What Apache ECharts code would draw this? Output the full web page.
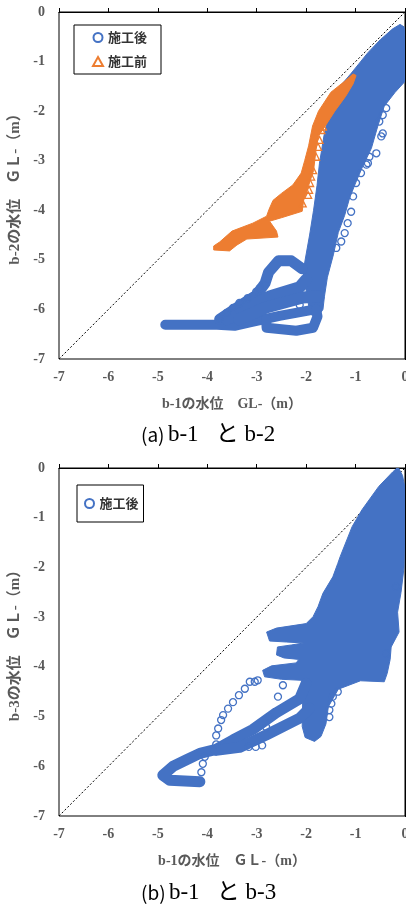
<!DOCTYPE html>
<html>
<head>
<meta charset="utf-8">
<script src="https://cdn.jsdelivr.net/npm/echarts@6/dist/echarts.min.js"></script>
<style>
  html, body { margin: 0; padding: 0; background: #fff; }
  #main { width: 406px; height: 906px; }
</style>
</head>
<body>
<div id="main"></div>
<script>
// axis ticks (m, GL-)
const tickMin = -7;
const tickMax = 0;

// reference line y = x
const diagLine = [[-7, -7], [0, 0]];

// ---- (a) b-1 と b-2 ----
// 施工後 dense cloud outline
const abAfterCloud = [
  [-0.1, -0.25], [-0.02, -0.3], [0, -0.5], [0, -1.4], [-0.2, -1.62], [-0.42, -1.9],
  [-0.55, -2.3], [-0.68, -2.75], [-0.85, -3.1], [-1.0, -3.45], [-1.12, -3.75],
  [-1.22, -4.1], [-1.35, -4.45], [-1.45, -4.9], [-1.57, -5.35], [-1.63, -5.74],
  [-1.66, -6.0], [-1.76, -6.15], [-1.92, -6.1], [-1.97, -5.8], [-2.02, -5.5],
  [-2.06, -5.25], [-2.02, -5.0], [-1.93, -4.5], [-1.85, -4.0], [-1.78, -3.5],
  [-1.73, -3.05], [-1.64, -2.5], [-1.55, -2.1], [-1.4, -1.6], [-1.1, -1.25],
  [-0.75, -0.82], [-0.5, -0.56], [-0.25, -0.34]
];
// 施工後 trails (consecutive readings)
const abTrailBottom = [[-4.85, -6.31], [-3.8, -6.31], [-3.45, -6.33], [-3.14, -6.26], [-2.54, -6.13], [-1.93, -6.02]];
const abTrailLoop = [[-3.75, -6.2], [-3.35, -5.93], [-3.01, -5.72], [-2.83, -5.47], [-2.76, -5.25], [-2.56, -5.02], [-2.3, -5.02], [-2.08, -5.18]];
const abTrailA = [[-3.6, -6.2], [-3.2, -5.98], [-2.74, -5.74], [-2.13, -5.55], [-2.0, -5.4]];
const abTrailB = [[-3.35, -6.2], [-2.81, -5.96], [-2.07, -5.76], [-1.75, -5.74]];
const abTrailD = [[-2.81, -6.2], [-2.8, -6.37], [-2.2, -6.43], [-1.86, -6.37], [-1.77, -6.14], [-1.8, -6.0]];
// 施工後 scattered readings
const abAfterPts = [
  [-0.38, -1.94], [-0.45, -2.08], [-0.52, -2.21], [-0.45, -2.45], [-0.48, -2.51],
  [-0.58, -2.85], [-0.72, -2.92], [-0.75, -3.05], [-0.78, -3.08], [-0.89, -3.25],
  [-0.99, -3.45], [-1.05, -3.72], [-1.09, -4.03], [-1.16, -4.26], [-1.22, -4.46],
  [-1.29, -4.63], [-1.39, -4.76], [-2.84, -5.51], [-2.94, -5.57], [-3.01, -5.64],
  [-3.18, -5.77], [-3.35, -5.87], [-3.48, -5.97], [-3.61, -6.07], [-3.75, -6.18],
  [-2.13, -5.91]
];
// 施工前 dense cloud outline
const abBeforeCloud = [
  [-0.99, -1.28], [-1.05, -1.45], [-1.2, -1.7], [-1.42, -2.0], [-1.6, -2.28],
  [-1.75, -2.5], [-1.8, -2.78], [-1.85, -3.2], [-1.95, -3.5], [-2.05, -3.8],
  [-2.08, -4.02], [-2.5, -4.15], [-2.74, -4.22], [-2.6, -4.42], [-2.57, -4.54],
  [-3.2, -4.58], [-3.4, -4.7], [-3.55, -4.82], [-3.87, -4.8], [-3.87, -4.72],
  [-3.75, -4.64], [-3.5, -4.42], [-3.08, -4.26], [-2.8, -4.12], [-2.75, -3.98],
  [-2.67, -3.8], [-2.5, -3.66], [-2.27, -3.49], [-2.1, -3.25], [-2.03, -3.0],
  [-1.95, -2.7], [-1.87, -2.3], [-1.75, -2.0], [-1.5, -1.62], [-1.2, -1.38],
  [-1.05, -1.25]
];
const abBeforePts = [
  [-1.66, -2.31], [-1.69, -2.38], [-1.73, -2.58], [-1.76, -2.72], [-1.8, -2.92],
  [-1.86, -3.19], [-1.9, -3.32], [-1.92, -3.45], [-1.94, -3.59], [-1.96, -3.69],
  [-2.07, -3.86]
];

// ---- (b) b-1 と b-3 ----
const bcAfterCloud = [
  [-0.14, 0.02], [-0.05, -0.15], [0, -0.4], [0, -1.0], [-0.02, -2.0], [-0.08, -2.5],
  [-0.15, -2.9], [-0.12, -3.3], [-0.28, -3.6], [-0.3, -3.85], [-0.36, -4.13],
  [-0.42, -4.3], [-0.9, -4.28], [-1.35, -4.45], [-1.55, -4.8], [-1.6, -5.15],
  [-1.7, -5.4], [-1.83, -5.5], [-2.02, -5.42], [-2.08, -5.2], [-2.07, -4.7],
  [-2.05, -4.4], [-2.1, -4.27], [-2.5, -4.25], [-2.84, -4.2], [-2.88, -4.07],
  [-2.7, -3.98], [-2.2, -3.92], [-2.15, -3.85], [-2.45, -3.82], [-2.6, -3.76],
  [-2.58, -3.6], [-2.3, -3.56], [-2.05, -3.52], [-2.4, -3.5], [-2.74, -3.48],
  [-2.8, -3.3], [-2.6, -3.22], [-2.0, -3.13], [-1.86, -2.99], [-1.76, -2.79],
  [-1.66, -2.52], [-1.46, -2.19], [-1.36, -1.92], [-1.31, -1.78], [-1.07, -1.18],
  [-0.87, -0.84], [-0.53, -0.37], [-0.25, -0.08]
];
const bcTrailUpper = [
  [-2.0, -4.33], [-2.13, -4.64], [-2.6, -4.92], [-3.08, -5.26], [-3.48, -5.47],
  [-3.82, -5.66], [-4.15, -5.74], [-4.42, -5.87], [-4.69, -6.0], [-4.9, -6.18],
  [-4.76, -6.28], [-4.15, -6.31]
];
const bcTrailLower = [[-1.93, -4.83], [-2.13, -5.03], [-2.81, -5.37], [-3.35, -5.62], [-3.82, -5.68]];
const bcAfterPts = [
  [-2.98, -4.27], [-3.04, -4.3], [-3.14, -4.3], [-3.24, -4.44], [-3.36, -4.57],
  [-3.48, -4.71], [-3.58, -4.84], [-3.68, -4.97], [-3.72, -5.07], [-3.78, -5.24],
  [-3.82, -5.38], [-3.82, -5.56], [-4.05, -5.81], [-4.09, -5.95], [-4.12, -6.12],
  [-2.47, -4.37], [-2.57, -4.6], [-2.75, -5.01], [-2.81, -5.21], [-2.89, -5.58],
  [-3.02, -5.61], [-3.16, -5.61], [-1.36, -4.5], [-1.46, -4.6], [-1.49, -4.74],
  [-1.53, -4.87], [-1.53, -5.01], [-0.38, -3.73], [-0.18, -2.39]
];

const BLUE = "#4472C4";
const ORANGE = "#ED7D31";
const GRAY = "#595959";
const numFont = "'Liberation Serif', 'Noto Sans CJK JP', serif";

var myChart = echarts.init(document.getElementById("main"), null, { renderer: "canvas" });

function cloud(points, color, gi) {
  return {
    type: "custom",
    xAxisIndex: gi,
    yAxisIndex: gi,
    silent: true,
    clip: true,
    z: 3,
    data: [0],
    renderItem: function (params, api) {
      return {
        type: "polygon",
        shape: { points: points.map((p) => api.coord(p)) },
        style: { fill: color, stroke: color, lineWidth: 1 },
      };
    },
  };
}

function trail(points, gi, w) {
  return {
    type: "line",
    xAxisIndex: gi,
    yAxisIndex: gi,
    data: points,
    symbol: "none",
    silent: true,
    z: 3,
    lineStyle: { color: BLUE, width: w, cap: "round", join: "round" },
  };
}

function pts(name, points, symbol, color, gi, size) {
  return {
    name: name,
    type: "scatter",
    xAxisIndex: gi,
    yAxisIndex: gi,
    data: points,
    symbol: symbol,
    symbolSize: size,
    z: 4,
    itemStyle: { color: "rgba(255,255,255,0)", borderColor: color, borderWidth: 1.3, opacity: 1 },
  };
}

function diag(gi) {
  return {
    type: "line",
    xAxisIndex: gi,
    yAxisIndex: gi,
    data: diagLine,
    symbol: "none",
    silent: true,
    z: 2,
    lineStyle: { color: "#000", width: 1, type: [2, 2] },
  };
}

function xAx(gi, name) {
  return {
    gridIndex: gi,
    type: "value",
    min: tickMin,
    max: tickMax,
    interval: 1,
    name: name,
    nameLocation: "middle",
    nameGap: 38,
    nameTextStyle: { color: GRAY, fontFamily: numFont, fontWeight: "bold", fontSize: 14 },
    axisLine: { lineStyle: { color: "#000", width: 1 } },
    axisTick: { inside: true, length: 4, lineStyle: { color: "#000" } },
    axisLabel: { color: GRAY, fontFamily: numFont, fontWeight: "bold", fontSize: 14, margin: 11 },
    splitLine: { show: false },
  };
}

function yAx(gi, name) {
  return {
    gridIndex: gi,
    type: "value",
    min: tickMin,
    max: tickMax,
    interval: 1,
    name: name,
    nameLocation: "middle",
    nameRotate: 90,
    nameGap: 35,
    nameTextStyle: { color: GRAY, fontFamily: numFont, fontWeight: "bold", fontSize: 15 },
    axisLine: { lineStyle: { color: "#000", width: 1 } },
    axisTick: { inside: true, length: 4, lineStyle: { color: "#000" } },
    axisLabel: { color: GRAY, fontFamily: numFont, fontWeight: "bold", fontSize: 14, margin: 14 },
    splitLine: { show: false },
  };
}

const legendText = { color: "#333", fontFamily: "'Noto Sans CJK JP', sans-serif", fontWeight: "bold", fontSize: 13 };

const captionRich = {
  p: { fontSize: 19, fontFamily: "'Noto Sans CJK JP', sans-serif", fill: "#000" },
  t: { fontSize: 23, fontFamily: "'Liberation Serif', 'Noto Sans CJK JP', serif", fill: "#000" },
};

myChart.setOption({
  animation: false,
  backgroundColor: "#fff",
  grid: [
    { left: 59, top: 12, width: 346, height: 347, outerBoundsMode: "none", containLabel: false, show: true, borderColor: "#000", borderWidth: 1, backgroundColor: "transparent" },
    { left: 59, top: 468, width: 346, height: 348, outerBoundsMode: "none", containLabel: false, show: true, borderColor: "#000", borderWidth: 1, backgroundColor: "transparent" },
  ],
  xAxis: [xAx(0, "b-1の水位　GL-（m）"), xAx(1, "b-1の水位　ＧＬ-（m）")],
  yAxis: [yAx(0, "b-2の水位　ＧＬ-（m）"), yAx(1, "b-3の水位　ＧＬ-（m）")],
  legend: [
    {
      data: ["施工後", "施工前"],
      orient: "vertical",
      left: 74,
      top: 25,
      padding: [6, 14, 6, 18],
      itemGap: 11,
      itemWidth: 10,
      itemHeight: 9,
      borderColor: "#000",
      borderWidth: 1,
      backgroundColor: "#fff",
      textStyle: legendText,
    },
    {
      data: ["施工後"],
      orient: "vertical",
      left: 77,
      top: 485,
      padding: [12, 5, 12, 7],
      itemWidth: 10,
      itemHeight: 9,
      borderColor: "#000",
      borderWidth: 1,
      backgroundColor: "#fff",
      textStyle: legendText,
    },
  ],
  graphic: [
    {
      type: "text",
      left: 141,
      top: 423,
      style: { text: "{p|(a)} {t|b-1   と b-2}", rich: captionRich },
    },
    {
      type: "text",
      left: 141,
      top: 881,
      style: { text: "{p|(b)} {t|b-1   と b-3}", rich: captionRich },
    },
  ],
  series: [
    diag(0),
    cloud(abAfterCloud, BLUE, 0),
    trail(abTrailBottom, 0, 10),
    trail(abTrailLoop, 0, 11),
    trail(abTrailA, 0, 12),
    trail(abTrailB, 0, 12),
    trail(abTrailD, 0, 10),
    pts("施工後", abAfterPts, "circle", BLUE, 0, 7),
    Object.assign(cloud(abBeforeCloud, ORANGE, 0), { z: 5 }),
    Object.assign(pts("施工前", abBeforePts, "triangle", ORANGE, 0, 7), { z: 6 }),

    diag(1),
    cloud(bcAfterCloud, BLUE, 1),
    trail(bcTrailUpper, 1, 11),
    trail(bcTrailLower, 1, 11),
    pts("施工後", bcAfterPts, "circle", BLUE, 1, 7),
  ],
});
</script>
</body>
</html>
